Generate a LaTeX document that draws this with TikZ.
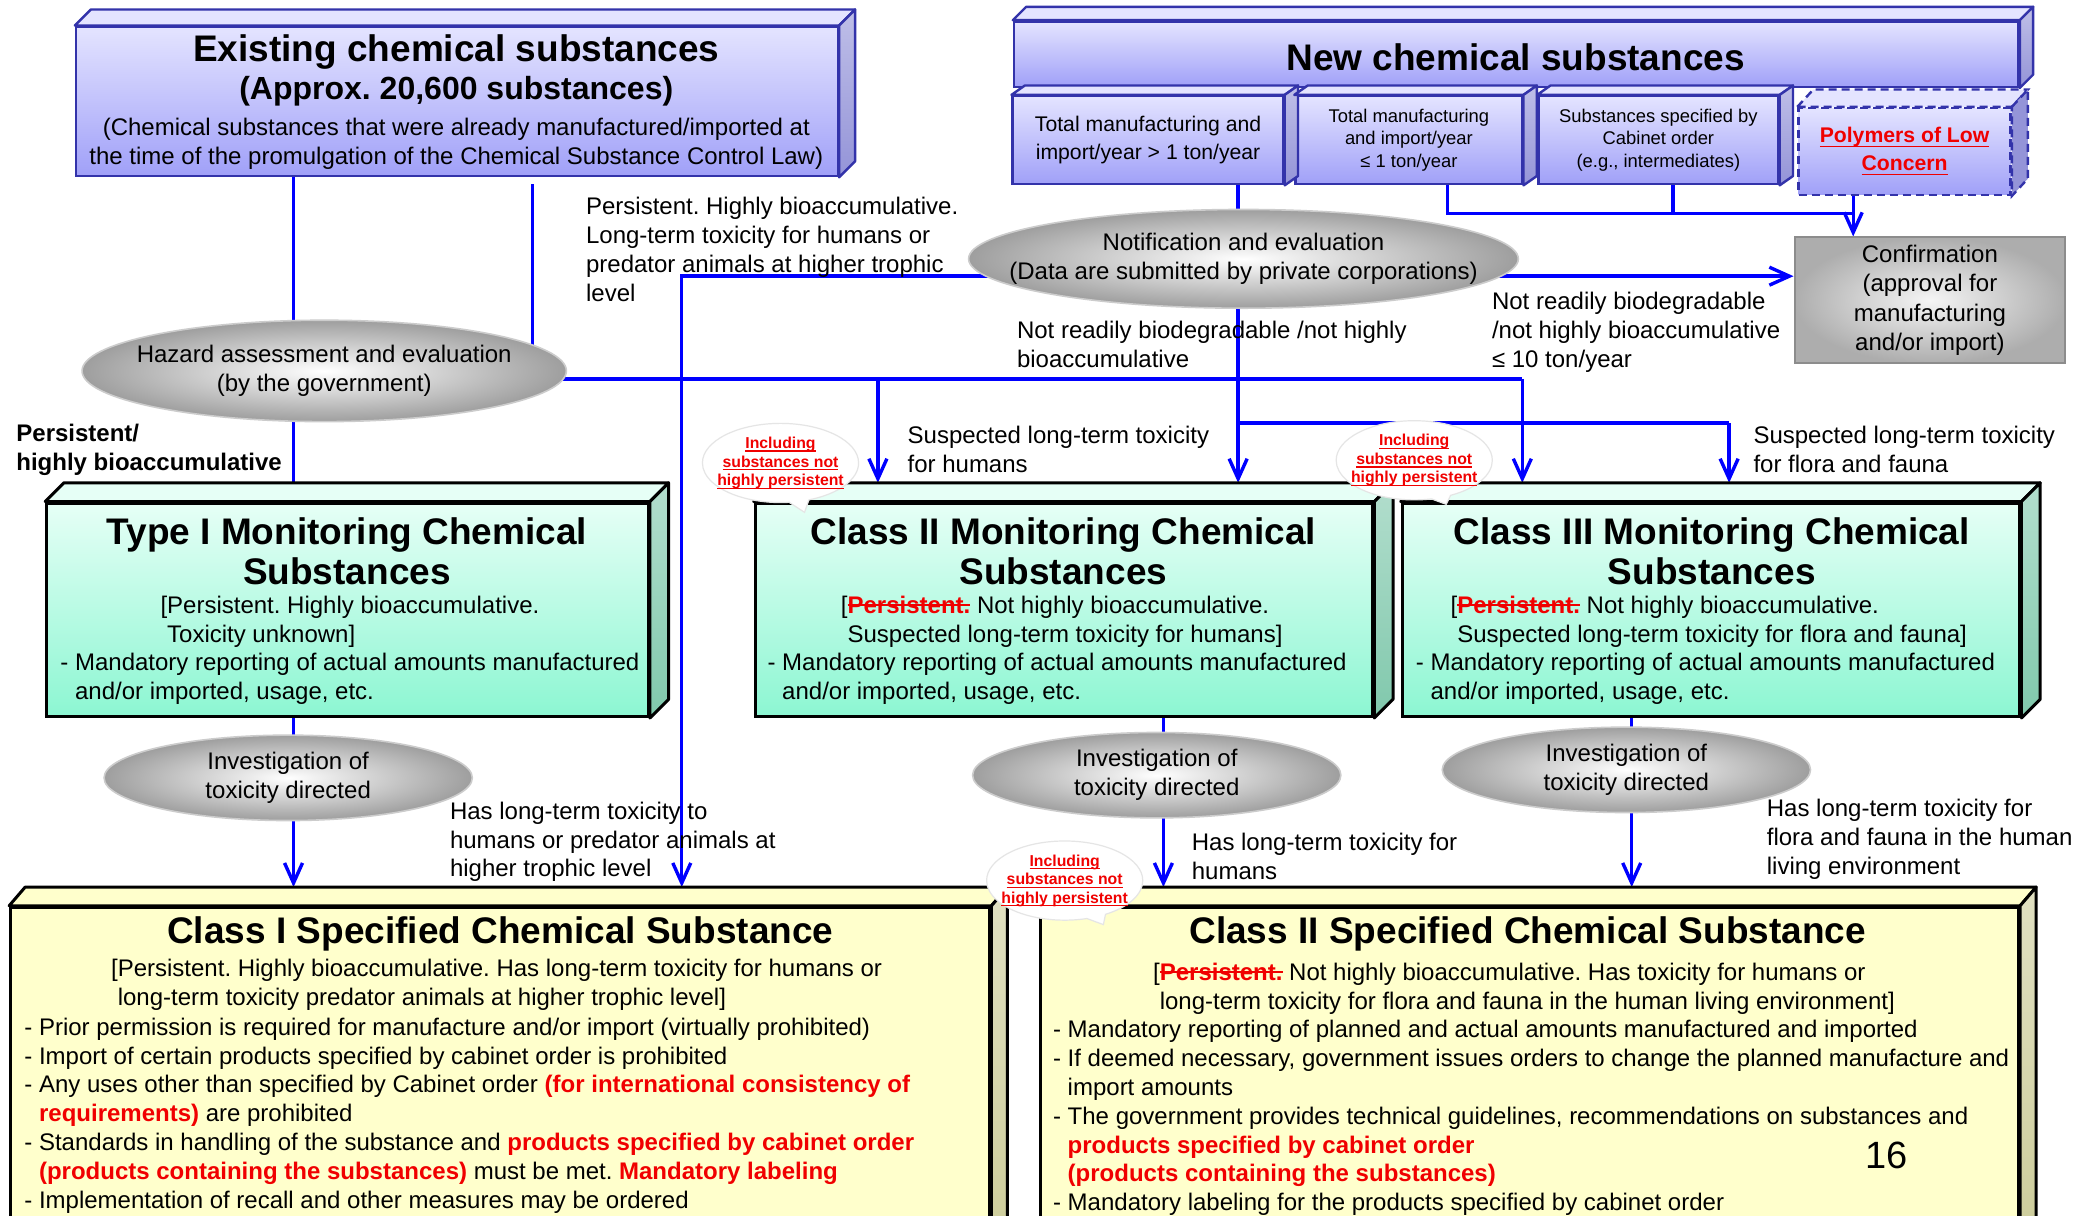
\documentclass[tikz,border=0pt]{standalone}
\usepackage{fontspec}
\setmainfont{Liberation Sans}
\usepackage{xcolor}
\usetikzlibrary{arrows.meta,calc,shapes.geometric,shapes.callouts,backgrounds}
\definecolor{flowblue}{HTML}{0000FF}
\definecolor{edgeblue}{HTML}{3333AA}
\definecolor{lavtop}{HTML}{E4E4FF}
\definecolor{lavbot}{HTML}{A0A0F8}
\definecolor{lavside}{HTML}{9494D8}
\definecolor{minttop}{HTML}{E6FFF6}
\definecolor{mintbot}{HTML}{8CF6D2}
\definecolor{mintside}{HTML}{80C8AC}
\definecolor{creamface}{HTML}{FFFFCC}
\definecolor{creamside}{HTML}{CCCC99}
\definecolor{alertred}{HTML}{F00000}
\newlength{\markw}
\newcommand{\undl}[1]{\settowidth{\markw}{#1}\rlap{\rule[-0.2em]{\markw}{0.08em}}#1}
\newcommand{\crossout}[1]{\settowidth{\markw}{#1}\rlap{\rule[0.3em]{\markw}{0.08em}}#1}
\newcommand{\redb}[1]{\textcolor{alertred}{\bfseries #1}}
\newcommand{\strk}[1]{\textcolor{alertred}{\bfseries\crossout{#1}}}
\frenchspacing

\begin{document}
\begin{tikzpicture}[x=0.6671pt,y=-0.6671pt,
  every node/.style={font=\fontsize{12}{14.4}\selectfont},
  sz/.style 2 args={minimum width=#1*0.6671pt,minimum height=#2*0.6671pt,inner sep=0pt},
  lavbox/.style={rectangle,draw=edgeblue,line width=1.2pt,top color=lavtop,bottom color=lavbot},
  mintbox/.style={rectangle,draw=black,line width=1.5pt,top color=minttop,bottom color=mintbot},
  creambox/.style={rectangle,draw=black,line width=1.5pt,fill=creamface},
  disc/.style={ellipse,draw=black!20,line width=0.8pt,inner color=white,outer color=black!38,align=center,
    inner xsep=-45pt,inner ysep=-6pt},
  txt/.style={inner sep=0pt,align=left,anchor=west},
  head/.style={inner sep=0pt,align=center,font=\fontsize{18.5}{20}\selectfont\bfseries},
  flow/.style={draw=flowblue,line width=1.7pt},
  arr/.style={flow,-{Straight Barb[length=10pt,width=9pt]}},
  bubble/.style={ellipse callout,fill=white,draw=black!10,line width=0.6pt,inner xsep=-4pt,inner ysep=1pt,
    align=center,text=alertred,font=\fontsize{7.9}{9.3}\selectfont\bfseries}]
\useasboundingbox (0,0) rectangle (1568,911);

% boxes of the flow
\node[lavbox,sz={571}{112}] (exist) at (342.5,76) {};
\node[lavbox,sz={753}{49}] (new) at (1136.5,40.5) {};
\node[lavbox,sz={203}{66},align=center,font=\fontsize{10.6}{14}\selectfont] (nsub1) at (860.5,105) {Total manufacturing and\\import/year > 1 ton/year};
\node[lavbox,sz={170}{66},align=center,font=\fontsize{9.2}{11.3}\selectfont] (nsub2) at (1056,105) {Total manufacturing\\and import/year\\≤ 1 ton/year};
\node[lavbox,sz={180}{66},align=center,font=\fontsize{9.2}{11.3}\selectfont] (nsub3) at (1243,105) {Substances specified by\\Cabinet order\\(e.g., intermediates)};
\node[lavbox,dash pattern=on 4pt off 2.5pt,sz={159}{65},align=center,text=alertred,font=\fontsize{10.6}{14}\selectfont\bfseries] (poly) at (1427.5,113.5) {\undl{Polymers of Low}\\\undl{Concern}};
\node[rectangle,draw=black!45,line width=1pt,inner color=black!4,outer color=black!32,sz={203}{94},align=center,font=\fontsize{12}{14.7}\selectfont] (confirm) at (1446.5,225) {Confirmation\\(approval for\\manufacturing\\and/or import)};

\node[sz={412}{74},disc] (notif) at (932,194) {Notification and evaluation\\(Data are submitted by private corporations)};
\node[sz={363}{76},disc] (hazard) at (243,278) {Hazard assessment and evaluation\\(by the government)};

\node[mintbox,sz={451}{160}] (t1mon) at (260.5,457) {};
\node[mintbox,sz={463}{160}] (c2mon) at (797.5,457) {};
\node[mintbox,sz={463}{160}] (c3mon) at (1282.5,457) {};

\node[sz={276}{64},disc] (inv1) at (216,583) {Investigation of\\toxicity directed};
\node[sz={276}{64},disc] (inv2) at (867,581) {Investigation of\\toxicity directed};
\node[sz={276}{64},disc] (inv3) at (1219,577) {Investigation of\\toxicity directed};

\node[creambox,sz={734}{260}] (c1spec) at (375,810) {};
\node[creambox,sz={733}{260}] (c2spec) at (1146.5,810) {};

% top and side faces
\foreach \b/\dx/\dy/\tc/\sc/\lc/\lw in {exist/12/12/lavtop/lavside/edgeblue/1.2pt,
    new/10/10/lavtop/lavside/edgeblue/1.2pt, nsub1/10/7/lavtop/lavside/edgeblue/1.2pt,
    nsub2/10/7/lavtop/lavside/edgeblue/1.2pt, nsub3/10/7/lavtop/lavside/edgeblue/1.2pt,
    t1mon/14/14/minttop/mintside/black/1.5pt, c2mon/14/14/minttop/mintside/black/1.5pt,
    c3mon/14/14/minttop/mintside/black/1.5pt, c1spec/12/14/creamface/creamside/black/1.5pt,
    c2spec/12/14/creamface/creamside/black/1.5pt}{
  \filldraw[fill=\tc,draw=\lc,line width=\lw,line join=round] (\b.north west) -- ++(\dx,-\dy) -- ($(\b.north east)+(\dx,-\dy)$) -- (\b.north east) -- cycle;
  \filldraw[top color=\sc!60!white,bottom color=\sc,draw=\lc,line width=\lw,line join=round] (\b.north east) -- ++(\dx,-\dy) -- ($(\b.south east)+(\dx,-\dy)$) -- (\b.south east) -- cycle;
}
\filldraw[fill=lavtop,draw=edgeblue,line width=1.2pt,dash pattern=on 4pt off 2.5pt] (poly.north west) -- ++(12,-13) -- ($(poly.north east)+(12,-13)$) -- (poly.north east) -- cycle;
\filldraw[fill=lavside,draw=edgeblue,line width=1.2pt,dash pattern=on 4pt off 2.5pt] (poly.north east) -- ++(12,-13) -- ($(poly.south east)+(12,-13)$) -- (poly.south east) -- cycle;

\coordinate (c2top) at ($(c2mon.north)+(0,-14)$);
\coordinate (c3top) at ($(c3mon.north)+(0,-14)$);
\coordinate (c1top) at ($(c1spec.north)+(0,-14)$);
\coordinate (c2stop) at ($(c2spec.north)+(0,-14)$);

% texts in the boxes
\node[head] (ex-t) at (342,39) {Existing chemical substances};
\node[inner sep=0pt,font=\fontsize{16}{18}\selectfont\bfseries] (ex-s) at (342,68) {(Approx. 20,600 substances)};
\node[inner sep=0pt,align=center] (ex-d) at (342,108) {(Chemical substances that were already manufactured/imported at\\the time of the promulgation of the Chemical Substance Control Law)};
\node[head] (nw-t) at (1136,43) {New chemical substances};

\node[head] (t1-t) at (260,413) {Type I Monitoring Chemical\\Substances};
\node[txt] (t1-p) at (120,466) {[Persistent. Highly bioaccumulative.\\\phantom{[}Toxicity unknown]};
\node[txt] (t1-d) at (45,509) {- Mandatory reporting of actual amounts manufactured\\\phantom{- }and/or imported, usage, etc.};

\node[head] (c2-t) at (797,413) {Class II Monitoring Chemical\\Substances};
\node[txt] (c2-p) at (630,466) {[\strk{Persistent.} Not highly bioaccumulative.\\\phantom{[}Suspected long-term toxicity for humans]};
\node[txt] (c2-d) at (575,509) {- Mandatory reporting of actual amounts manufactured\\\phantom{- }and/or imported, usage, etc.};

\node[head] (c3-t) at (1283,413) {Class III Monitoring Chemical\\Substances};
\node[txt] (c3-p) at (1087,466) {[\strk{Persistent.} Not highly bioaccumulative.\\\phantom{[}Suspected long-term toxicity for flora and fauna]};
\node[txt] (c3-d) at (1061,509) {- Mandatory reporting of actual amounts manufactured\\\phantom{- }and/or imported, usage, etc.};

\node[head] (s1-t) at (375,700) {Class I Specified Chemical Substance};
\node[txt] (s1-p) at (83,738) {[Persistent. Highly bioaccumulative. Has long-term toxicity for humans or\\\phantom{[}long-term toxicity predator animals at higher trophic level]};
\node[txt] (s1-d) at (18,836) {- Prior permission is required for manufacture and/or import (virtually prohibited)\\
  - Import of certain products specified by cabinet order is prohibited\\
  - Any uses other than specified by Cabinet order \redb{(for international consistency of}\\
  \phantom{- }\redb{requirements)} are prohibited\\
  - Standards in handling of the substance and \redb{products specified by cabinet order}\\
  \phantom{- }\redb{(products containing the substances)} must be met. \redb{Mandatory labeling}\\
  - Implementation of recall and other measures may be ordered};

\node[head] (s2-t) at (1145,700) {Class II Specified Chemical Substance};
\node[txt] (s2-p) at (864,741) {[\strk{Persistent.} Not highly bioaccumulative. Has toxicity for humans or\\\phantom{[}long-term toxicity for flora and fauna in the human living environment]};
\node[txt] (s2-d) at (789,838) {- Mandatory reporting of planned and actual amounts manufactured and imported\\
  - If deemed necessary, government issues orders to change the planned manufacture and\\
  \phantom{- }import amounts\\
  - The government provides technical guidelines, recommendations on substances and\\
  \phantom{- }\redb{products specified by cabinet order}\\
  \phantom{- }\redb{(products containing the substances)}\\
  - Mandatory labeling for the products specified by cabinet order};
\node[inner sep=0pt,font=\fontsize{19}{22}\selectfont] (pgno) at (1414,866) {16};

% labels on the connectors
\node[txt] (lab-pbt) at (439,187) {Persistent. Highly bioaccumulative.\\Long-term toxicity for humans or\\predator animals at higher trophic\\level};
\node[txt] (lab-nrb) at (762,258) {Not readily biodegradable /not highly\\bioaccumulative};
\node[txt] (lab-nrb10) at (1118,249) {Not readily biodegradable\\/not highly bioaccumulative\\≤ 10 ton/year};
\node[txt,font=\fontsize{12}{14.4}\selectfont\bfseries] (lab-pb) at (12,337) {Persistent/\\highly bioaccumulative};
\node[txt] (lab-sh) at (680,337) {Suspected long-term toxicity\\for humans};
\node[txt] (lab-sf) at (1314,337) {Suspected long-term toxicity\\for flora and fauna};
\node[txt] (lab-ht) at (337,631) {Has long-term toxicity to\\humans or predator animals at\\higher trophic level};
\node[txt] (lab-hh) at (893,642) {Has long-term toxicity for\\humans};
\node[txt] (lab-hf) at (1324,629) {Has long-term toxicity for\\flora and fauna in the human\\living environment};

% callouts
\node[bubble,callout absolute pointer={(603,384)}] (co1) at (585,347) {\undl{Including}\\\undl{substances not}\\\undl{highly persistent}};
\node[bubble,callout absolute pointer={(1084,378)}] (co2) at (1060,345) {\undl{Including}\\\undl{substances not}\\\undl{highly persistent}};
\node[bubble,callout absolute pointer={(827,693)}] (co3) at (798,660) {\undl{Including}\\\undl{substances not}\\\undl{highly persistent}};

% connectors behind the shapes
\begin{pgfonlayer}{background}
\fill[white] (0,0) rectangle (1568,911);
\coordinate (jh1) at (658,284);
\coordinate (jh2) at (1141,284);
\coordinate (jn1) at (928,317);
\coordinate (jn2) at (1296,317);
\coordinate (jl) at (511,207);
\coordinate (jc1) at (1085,160);
\coordinate (jc2) at (1389,160);
\coordinate (jx) at (399,138);
\draw[flow] (220,0 |- exist.south) -- (220,0 |- hazard.center);
\draw[flow] (jx) -- (jx |- hazard.center);
\draw[flow] (220,0 |- hazard.center) -- (220,0 |- t1mon.north);
\draw[flow] (hazard.center |- jh1) -- (jh2);
\draw[arr] (jh1) -- (jh1 |- c2top);
\draw[arr] (jh2) -- (jh2 |- c3top);
\draw[flow] (jn1 |- nsub1.south) -- (jn1 |- notif.center);
\draw[arr] (jn1 |- notif.center) -- (jn1 |- c2top);
\draw[flow] (jn1) -- (jn2);
\draw[arr] (jn2) -- (jn2 |- c3top);
\draw[arr] (notif.center |- jl) -- (jl) -- (jl |- c1top);
\draw[arr] (notif.center |- jl) -- (confirm.west |- jl);
\draw[flow] (jc1 |- nsub2.south) -- (jc1) -- (jc2);
\draw[flow] (1254,0 |- nsub3.south) -- (1254,0 |- jc1);
\draw[arr] (jc2 |- poly.south) -- (jc2 |- confirm.north);
\draw[flow] (220,0 |- t1mon.south) -- (220,0 |- inv1.center);
\draw[arr] (220,0 |- inv1.center) -- (220,0 |- c1top);
\draw[flow] (872,0 |- c2mon.south) -- (872,0 |- inv2.center);
\draw[arr] (872,0 |- inv2.center) -- (872,0 |- c2stop);
\draw[flow] (1223,0 |- c3mon.south) -- (1223,0 |- inv3.center);
\draw[arr] (1223,0 |- inv3.center) -- (1223,0 |- c2stop);
\end{pgfonlayer}
\end{tikzpicture}
\end{document}
